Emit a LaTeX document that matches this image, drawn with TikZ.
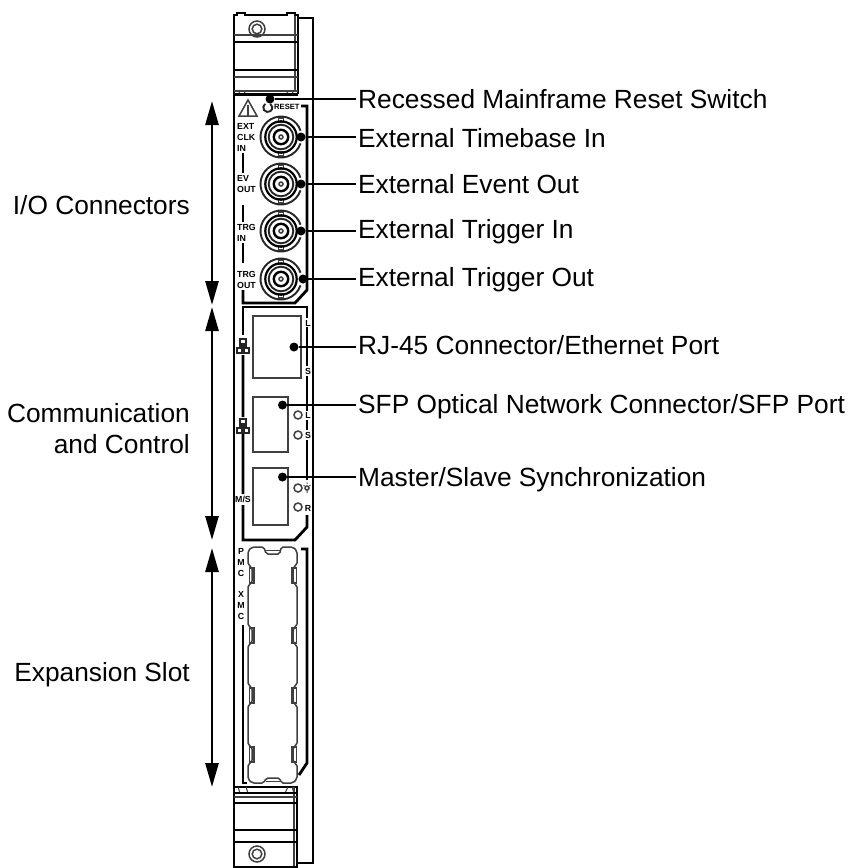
\documentclass[tikz,border=0pt]{standalone}
\usepackage{fontspec}
\setmainfont{Liberation Sans}
\usetikzlibrary{arrows.meta}
\tikzset{
 x=1pt,y=-1pt,
 thickl/.style={line width=2.8pt,black},
 med/.style={line width=1.9pt,black!85},
 thinl/.style={line width=1.5pt,black!75},
 leader/.style={line width=2.7pt,black},
 dotn/.style={circle,fill=black,inner sep=0pt,minimum size=9pt},
 lab/.style={font=\fontsize{26.3}{30}\selectfont,inner sep=0pt,anchor=base west,black},
 side/.style={font=\fontsize{26.3}{31}\selectfont,inner sep=0pt,align=right,anchor=east,black},
 tiny/.style={font=\bfseries\fontsize{8.8}{11}\selectfont,inner sep=0pt,black},
 dim/.style={line width=2.7pt,black,{Triangle[length=24pt,width=13pt]}-{Triangle[length=24pt,width=13pt]}},
}
\newcommand{\bnc}[2]{%
 \draw[thinl] (#1,#2) ++(-2.7,-19) rectangle ++(5.4,4);
 \draw[thinl] (#1,#2) ++(-2.7,15) rectangle ++(5.4,4);
 \draw[med] (#1+19.5,#2-6.3) arc[start angle=-18,end angle=-342,radius=20.5];
 \draw[thickl,line width=2.2pt] (#1,#2) circle[radius=15.7];
 \draw[med] (#1,#2) circle[radius=12.3];
 \draw[thickl,line width=2.4pt] (#1,#2) circle[radius=7.2];
 \draw[thinl] (#1,#2) circle[radius=2];
}
\newcommand{\neticon}[2]{%
 \draw[black!85,line width=1.5pt] (#1-3,#2) rectangle ++(6,5);
 \draw[black!85,line width=1.2pt] (#1,#2+5) -- ++(0,2) (#1-4,#2+7) -- ++(8,0);
 \draw[black!85,line width=1.8pt] (#1-6,#2+9) rectangle ++(5,5);
 \draw[black!85,line width=1.8pt] (#1+1,#2+9) rectangle ++(5,5);
}
\newcommand{\sideslot}[2]{%
 \draw[thinl] (#1,#2) rectangle ++(4.5,15);
}
\begin{document}
\begin{tikzpicture}
\useasboundingbox[fill=white] (0,0) rectangle (850,868);
% rear rail
\draw[thickl] (298,18) -- (313,18) -- (313,863) -- (298,863);
% panel side
\draw[thickl] (234,94) -- (234,787);
% top handle
\draw[thickl,line width=2.2pt] (234,95) -- (234,15) -- (237,15) -- (237,13) -- (245,13) -- (245,15) -- (287,15) -- (287,13) -- (295,13) -- (295,15) -- (298,15) -- (298,94);
\draw[thinl] (295,16) -- (295,91);
\draw[thinl] (234,35) -- (298,35);
\draw[thickl,line width=2.2pt] (234,42) -- (298,42);
\draw[thickl,line width=2.2pt] (234,70) -- (298,70);
\draw[thinl] (234,77) -- (298,77);
\draw[thinl] (234,91) -- (298,91);
\draw[thinl,line width=1pt] (240,91) -- (238,95) (244,91) -- (246,95) (288,91) -- (286,95) (292,91) -- (294,95);
\draw[thickl] (234,94.5) -- (298,94.5);
\draw[thinl] (257,29) circle[radius=8];
\draw[thinl] (257,29) circle[radius=4.8];
% bottom handle
\draw[thickl,line width=2.2pt] (234,787) -- (234,867) -- (297,867) -- (297,787) -- cycle;
\draw[thinl] (294,787) -- (294,866);
\draw[thinl,line width=1pt] (238,787) -- (240,793) (246,787) -- (248,793) (288,787) -- (285,793) (292,787) -- (294,793);
\draw[thickl,line width=2.2pt] (234,793) -- (298,793);
\draw[thinl] (234,797) -- (297,797);
\draw[thickl,line width=2.2pt] (234,803) -- (297,803);
\draw[thickl,line width=2.2pt] (234,830) -- (297,830);
\draw[thickl,line width=2.2pt] (234,842) -- (297,842);
\draw[thinl] (257,854) circle[radius=8];
\draw[thinl] (257,854) circle[radius=4.8];
% warning triangle and reset
\draw[thinl,line join=miter] (239,116) -- (248,100) -- (257,116) -- cycle;
\draw[thinl] (248,105) -- (248,116);
\draw[med] (265.2,103.8) arc[start angle=-125,end angle=-415,radius=4.5];
\node[tiny,font=\bfseries\fontsize{7.6}{10}\selectfont,anchor=west] at (274,107) {RESET};
% I/O bracket
\draw[thickl] (301,106) -- (307,106) -- (307,290) -- (295,303) -- (243,303) -- (243,290);
\draw[thickl] (243,153) -- (243,173) (243,205) -- (243,222) (243,243) -- (243,263);
\node[tiny,align=left,anchor=west] at (237,137.5) {EXT\\CLK\\IN};
\node[tiny,align=left,anchor=west] at (237,184) {EV\\OUT};
\node[tiny,align=left,anchor=west] at (237,233) {TRG\\IN};
\node[tiny,align=left,anchor=west] at (237,279.5) {TRG\\OUT};
\bnc{281}{137}
\bnc{281}{184}
\bnc{281}{231}
\bnc{281}{279}
% comm bracket
\draw[thickl] (243,335) -- (243,307) -- (307,307) -- (307,318);
\draw[thickl] (243,355) -- (243,417) (243,434) -- (243,494) (243,505) -- (243,540) -- (295,540) -- (307,527) -- (307,515);
\draw[thickl] (307,327) -- (307,366) (307,376) -- (307,411) (307,420) -- (307,430) (307,440) -- (307,480);
\neticon{243}{339}
\neticon{243}{419}
\node[tiny] at (243,499) {M/S};
\node[tiny] at (308,323) {L};
\node[tiny] at (308,371) {S};
\node[tiny] at (308,415) {L};
\node[tiny] at (308,435) {S};
\node[tiny] at (308,508) {R};
\draw[thinl] (307,488) circle[radius=2];
\draw[thinl,line width=1pt] (307,490) -- (307,493) (303.5,485) -- (304.5,486) (310.5,485) -- (309.5,486) (307,482.5) -- (307,484);
\draw[thinl] (253,316) rectangle (301,378);
\draw[thinl] (253,397) rectangle (288,452);
\draw[thinl] (253,468) rectangle (288,525);
\foreach \y in {415,435,488,507} \draw[thinl] (298,\y) circle[radius=4];
% PMC
\node[tiny,align=center,anchor=north] at (241,548) {P\\M\\C};
\node[tiny,align=center,anchor=north] at (241,591) {X\\M\\C};
\draw[thickl] (301,549) -- (307,549) -- (307,763) -- (299,775);
\draw[thickl] (243,625) -- (243,783) -- (247,783);
\draw[thinl,rounded corners=2pt]
 (252,547) -- (264,547) -- (266,554) -- (280,554) -- (281,547) -- (293,547) -- (297,551) -- (297,565) -- (293,567)
 -- (293,583) -- (297,585) -- (297,626) -- (293,628) -- (293,643) -- (297,645) -- (297,685) -- (293,687) -- (293,703) -- (297,705)
 -- (297,745) -- (293,747) -- (293,762) -- (297,764) -- (297,779) -- (293,783) -- (281,783) -- (280,778) -- (266,778) -- (264,783)
 -- (252,783) -- (248,779) -- (248,764) -- (252,762) -- (252,747) -- (248,745) -- (248,705) -- (252,703) -- (252,687) -- (248,685)
 -- (248,645) -- (252,643) -- (252,628) -- (248,626) -- (248,585) -- (252,583) -- (252,567) -- (248,565) -- (248,551) -- cycle;
\draw[thinl,line width=1pt] (266,550.5) -- (280,550.5) (266,781) -- (280,781);
\foreach \y in {568,628,688,747} {\sideslot{249.5}{\y}\sideslot{292}{\y}}
% leaders
\node[dotn] (d1) at (270,99) {};
\node[dotn] (d2) at (301,137) {};
\node[dotn] (d3) at (301,184) {};
\node[dotn] (d4) at (301,231) {};
\node[dotn] (d5) at (303,279) {};
\node[dotn] (d6) at (294,347) {};
\node[dotn] (d7) at (282.5,405) {};
\node[dotn] (d8) at (282.5,477) {};
\node[lab] (l1) at (358,108) {Recessed Mainframe Reset Switch};
\node[lab] (l2) at (358,147) {External Timebase In};
\node[lab] (l3) at (358,193) {External Event Out};
\node[lab] (l4) at (358,238) {External Trigger In};
\node[lab] (l5) at (358,286) {External Trigger Out};
\node[lab] (l6) at (358,354) {RJ-45 Connector/Ethernet Port};
\node[lab] (l7) at (358,413) {SFP Optical Network Connector/SFP Port};
\node[lab] (l8) at (358,486) {Master/Slave Synchronization};
\draw[leader,shorten >=2pt] (d1) -- (l1.west |- d1);
\draw[leader,shorten >=2pt] (d2) -- (l2.west |- d2);
\draw[leader,shorten >=2pt] (d3) -- (l3.west |- d3);
\draw[leader,shorten >=2pt] (d4) -- (l4.west |- d4);
\draw[leader,shorten >=2pt] (d5) -- (l5.west |- d5);
\draw[leader,shorten >=2pt] (d6) -- (l6.west |- d6);
\draw[leader,shorten >=2pt] (d7) -- (l7.west |- d7);
\draw[leader,shorten >=2pt] (d8) -- (l8.west |- d8);
% dimension arrows
\coordinate (a1) at (212,101); \coordinate (a2) at (212,305);
\coordinate (b1) at (212,307); \coordinate (b2) at (212,540);
\coordinate (c1) at (212,548); \coordinate (c2) at (212,787);
\draw[dim] (a1) -- (a2);
\draw[dim] (b1) -- (b2);
\draw[dim] (c1) -- (c2);
\node[side] (s1) at (190,205) {I/O Connectors};
\node[side] (s2) at (190,429) {Communication\\and Control};
\node[side] (s3) at (190,675) {Expansion Slot};
\end{tikzpicture}
\end{document}
